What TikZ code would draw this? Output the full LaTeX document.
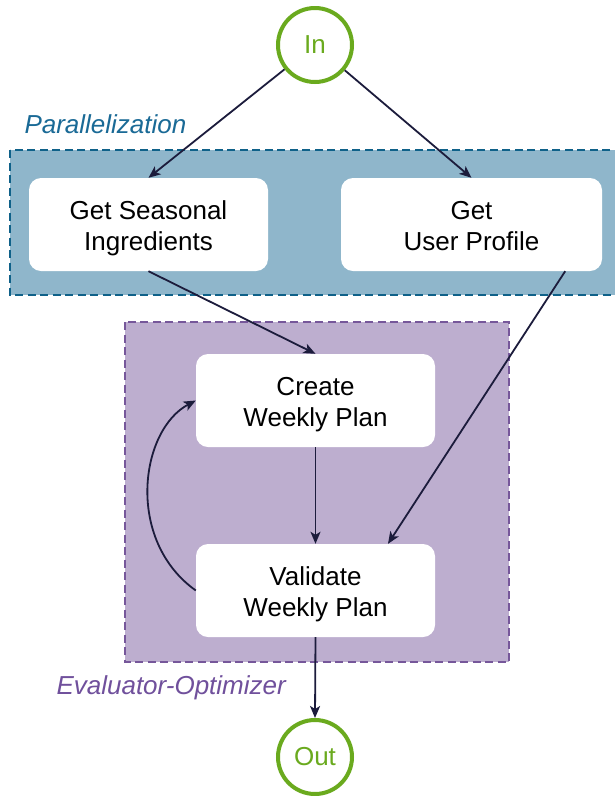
\documentclass[tikz,border=0pt]{standalone}
\usepackage{fontspec}
\setmainfont{Liberation Sans}
\usetikzlibrary{arrows.meta,calc}
\definecolor{bluefill}{HTML}{8FB6CB}
\definecolor{blueline}{HTML}{0F6189}
\definecolor{bluetext}{HTML}{1A6A96}
\definecolor{purplefill}{HTML}{BDAECF}
\definecolor{purpleline}{HTML}{76579A}
\definecolor{purpletext}{HTML}{70509C}
\definecolor{termgreen}{HTML}{6AAA1E}
\definecolor{arrowcol}{HTML}{1C1C3C}
\newcommand{\topstrut}{\rule{0pt}{26.2pt}}
\newcommand{\botstrut}{\rule[-5.6pt]{0pt}{5.6pt}}
\begin{document}
\begin{tikzpicture}[x=1pt,y=-1pt,
  every node/.style={font=\fontsize{26}{31}\selectfont},
  task/.style={draw=none,fill=white,rounded corners=12pt,minimum width=239pt,minimum height=93pt,align=center,inner sep=0pt},
  term/.style={circle,draw=termgreen,line width=4pt,minimum size=74pt,inner sep=0pt,text=termgreen,fill=white},
  group/.style={dashed,dash pattern=on 8pt off 4.5pt,line width=1.8pt},
  flow/.style={draw=arrowcol,line width=1.8pt,-{Stealth[length=12pt,width=10pt,inset=3pt]}}
]
\useasboundingbox (0,0) rectangle (615,796);
\fill[white] (0,0) rectangle (615,796);
% groups
\draw[group,draw=blueline,fill=bluefill] (10,150) rectangle (640,295);
\draw[group,draw=purpleline,fill=purplefill] (125,322) rectangle (509,662);
\node[anchor=west,text=bluetext,font=\fontsize{26}{31}\selectfont\itshape] (plabel) at (21,124) {Parallelization};
\node[anchor=west,text=purpletext,font=\fontsize{26}{31}\selectfont\itshape] (elabel) at (53,688) {Evaluator-Optimizer};
% nodes
\node[term] (in) at (315,45) {In};
\node[term] (out) at (315,757) {Out};
\node[task] (gsi) at (148.5,224.5) {\topstrut Get Seasonal\\Ingredients\botstrut};
\node[task,minimum width=261pt] (gup) at (471.5,224.5) {\topstrut Get\\User Profile\botstrut};
\node[task] (create) at (315.5,400.5) {\topstrut Create\\Weekly Plan\botstrut};
\node[task] (val) at (315.5,590.5) {\topstrut Validate\\Weekly Plan\botstrut};
% connectors
\draw[flow] (in) -- (gsi.north);
\draw[flow] (in) -- (gup.north);
\draw[flow] (gsi.south) -- (create.north);
\draw[flow] ($(gup.south east)+(-37,0)$) -- ($(val.north)+(72.5,0)$);
\draw[flow] (create.south) -- (val.north);
\draw[flow] (val.south) -- (out.north);
\draw[flow] (val.west) .. controls (125,540) and (140,430) .. (create.west);
\end{tikzpicture}
\end{document}
